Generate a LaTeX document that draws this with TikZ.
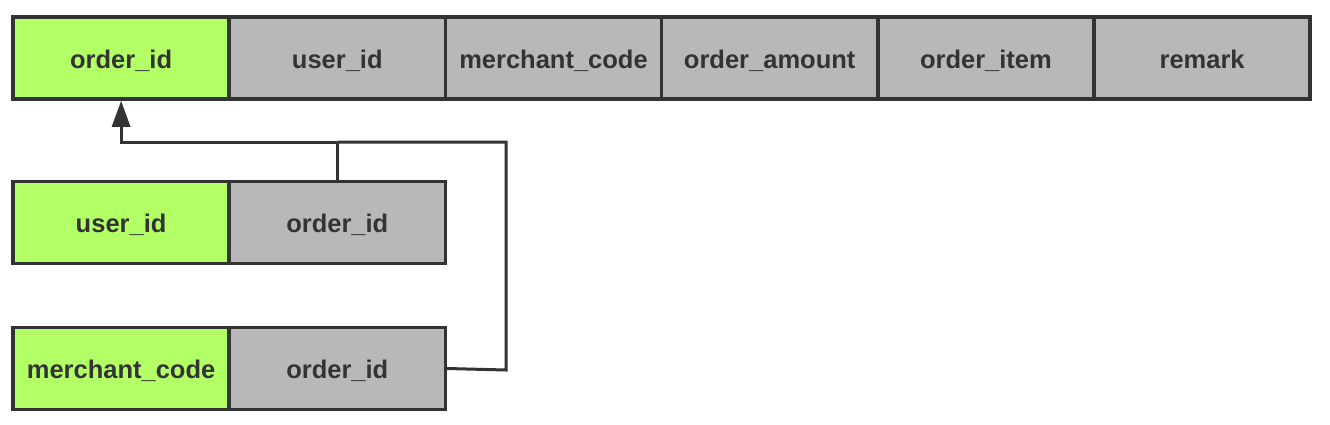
\documentclass[tikz,border=0pt]{standalone}
\usepackage{fontspec}
\setmainfont{Liberation Sans}
\usetikzlibrary{arrows.meta}
\definecolor{lineC}{HTML}{333333}
\definecolor{keyC}{HTML}{B3FF66}
\definecolor{cellC}{HTML}{B8B8B8}
\definecolor{txtC}{HTML}{333333}
\tikzset{
  cell/.style={draw=lineC, line width=3.5pt, minimum width=216.2pt, minimum height=82pt,
    inner sep=0pt, text height=22pt, text depth=2pt, text=txtC,
    font=\fontsize{25.5}{29}\selectfont\bfseries, anchor=center},
  keycell/.style={cell, fill=keyC},
  gcell/.style={cell, fill=cellC},
  conn/.style={draw=lineC, line width=3pt},
}
\begin{document}
\begin{tikzpicture}[x=1pt,y=-1pt]
\useasboundingbox (0,0) rectangle (1330,424);
% top table
\node[keycell] (t1) at (121.1,58) {order\_id};
\node[gcell] (t2) at (337.3,58) {user\_id};
\node[gcell] (t3) at (553.5,58) {merchant\_code};
\node[gcell] (t4) at (769.7,58) {order\_amount};
\node[gcell] (t5) at (985.9,58) {order\_item};
\node[gcell] (t6) at (1202.1,58) {remark};
% user index
\node[keycell] (u1) at (121.1,222.5) {user\_id};
\node[gcell] (u2) at (337.3,222.5) {order\_id};
% merchant index
\node[keycell] (m1) at (121.1,368.5) {merchant\_code};
\node[gcell] (m2) at (337.3,368.5) {order\_id};
% connectors
\coordinate (j1) at (337.3,142);
\coordinate (j2) at (506,142);
\coordinate (j3) at (506,370);
\draw[conn, -{Triangle[length=26pt,width=18pt]}] (j1) -| (t1.south);
\draw[conn] (u2.north) -- (j1);
\draw[conn, line join=miter] (m2.east) -- (j3) -- (j2) -- (j1);
\end{tikzpicture}
\end{document}
